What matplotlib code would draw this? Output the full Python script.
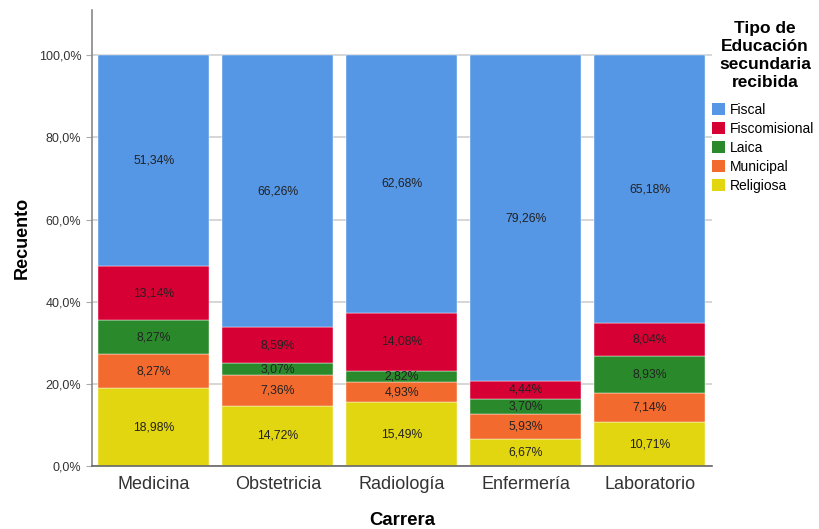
import matplotlib
matplotlib.use("Agg")
import matplotlib.pyplot as plt
from matplotlib.patches import Patch
import numpy as np

carreras = ["Medicina", "Obstetricia", "Radiología", "Enfermería", "Laboratorio"]
tipos = ["Fiscal", "Fiscomisional", "Laica", "Municipal", "Religiosa"]

religiosa = [18.98, 14.72, 15.49, 6.67, 10.71]
municipal = [8.27, 7.36, 4.93, 5.93, 7.14]
laica = [8.27, 3.07, 2.82, 3.70, 8.93]
fiscomisional = [13.14, 8.59, 14.08, 4.44, 8.04]
fiscal = [51.34, 66.26, 62.68, 79.26, 65.18]

colores = {
    "Fiscal": "#5596E5",
    "Fiscomisional": "#D60034",
    "Laica": "#2A8A2B",
    "Municipal": "#F26A2D",
    "Religiosa": "#E2D610",
}

# stacking order from bottom to top
pila = [("Religiosa", religiosa), ("Municipal", municipal), ("Laica", laica),
        ("Fiscomisional", fiscomisional), ("Fiscal", fiscal)]

plt.rcParams["font.family"] = ["Liberation Sans", "DejaVu Sans"]

fig = plt.figure(figsize=(8.2, 5.29), dpi=100)
ax = fig.add_axes([0.112, 0.119, 0.756, 0.862])

x = np.arange(len(carreras))
ancho = 0.895
base = np.zeros(len(carreras))
for nombre, vals in pila:
    v = np.array(vals)
    ax.bar(x, v, width=ancho, bottom=base, color=colores[nombre],
           edgecolor="#ffffff", linewidth=0.3, zorder=2)
    for xi, b, h in zip(x, base, v):
        ax.text(xi, b + h / 2, f"{h:.2f}%".replace(".", ","), ha="center",
                va="center", fontsize=8.8, color="#222222", zorder=3)
    base += v

ax.set_xlim(-0.5, 4.5)
ax.set_ylim(0, 111)
yt = [0, 20, 40, 60, 80, 100]
ax.set_yticks(yt)
ax.set_yticklabels([f"{t:.1f}%".replace(".", ",") for t in yt], fontsize=9, color="#333333")
ax.set_xticks(x)
ax.set_xticklabels(carreras, fontsize=13, color="#333333")
ax.tick_params(axis="x", length=0, pad=7)
ax.tick_params(axis="y", length=4, color="#aaaaaa")
ax.yaxis.grid(True, color="#d0d0d0", linewidth=1.2, zorder=0)
ax.set_axisbelow(True)
for s in ["top", "right"]:
    ax.spines[s].set_visible(False)
ax.spines["left"].set_color("#888888")
ax.spines["bottom"].set_color("#666666")
ax.spines["left"].set_linewidth(1.2)
ax.spines["bottom"].set_linewidth(1.2)

ax.set_ylabel("Recuento", fontsize=13, fontweight="bold", labelpad=6)
ax.set_xlabel("Carrera", fontsize=13.4, fontweight="bold", labelpad=14)

# legend title drawn as its own text block, entries underneath
fig.text(0.933, 0.961, "Tipo de\nEducación\nsecundaria\nrecibida", ha="center", va="top",
         fontsize=12.5, fontweight="bold", linespacing=1.26, multialignment="center")
handles = [Patch(facecolor=colores[t], edgecolor="none") for t in tipos]
leg = fig.legend(handles, tipos, loc="upper left", bbox_to_anchor=(0.8685, 0.806),
                 frameon=False, fontsize=10, handlelength=0.95, handleheight=0.95,
                 handletextpad=0.35, labelspacing=0.37, borderaxespad=0.0,
                 borderpad=0.0)

fig.savefig("out.png", dpi=100)
